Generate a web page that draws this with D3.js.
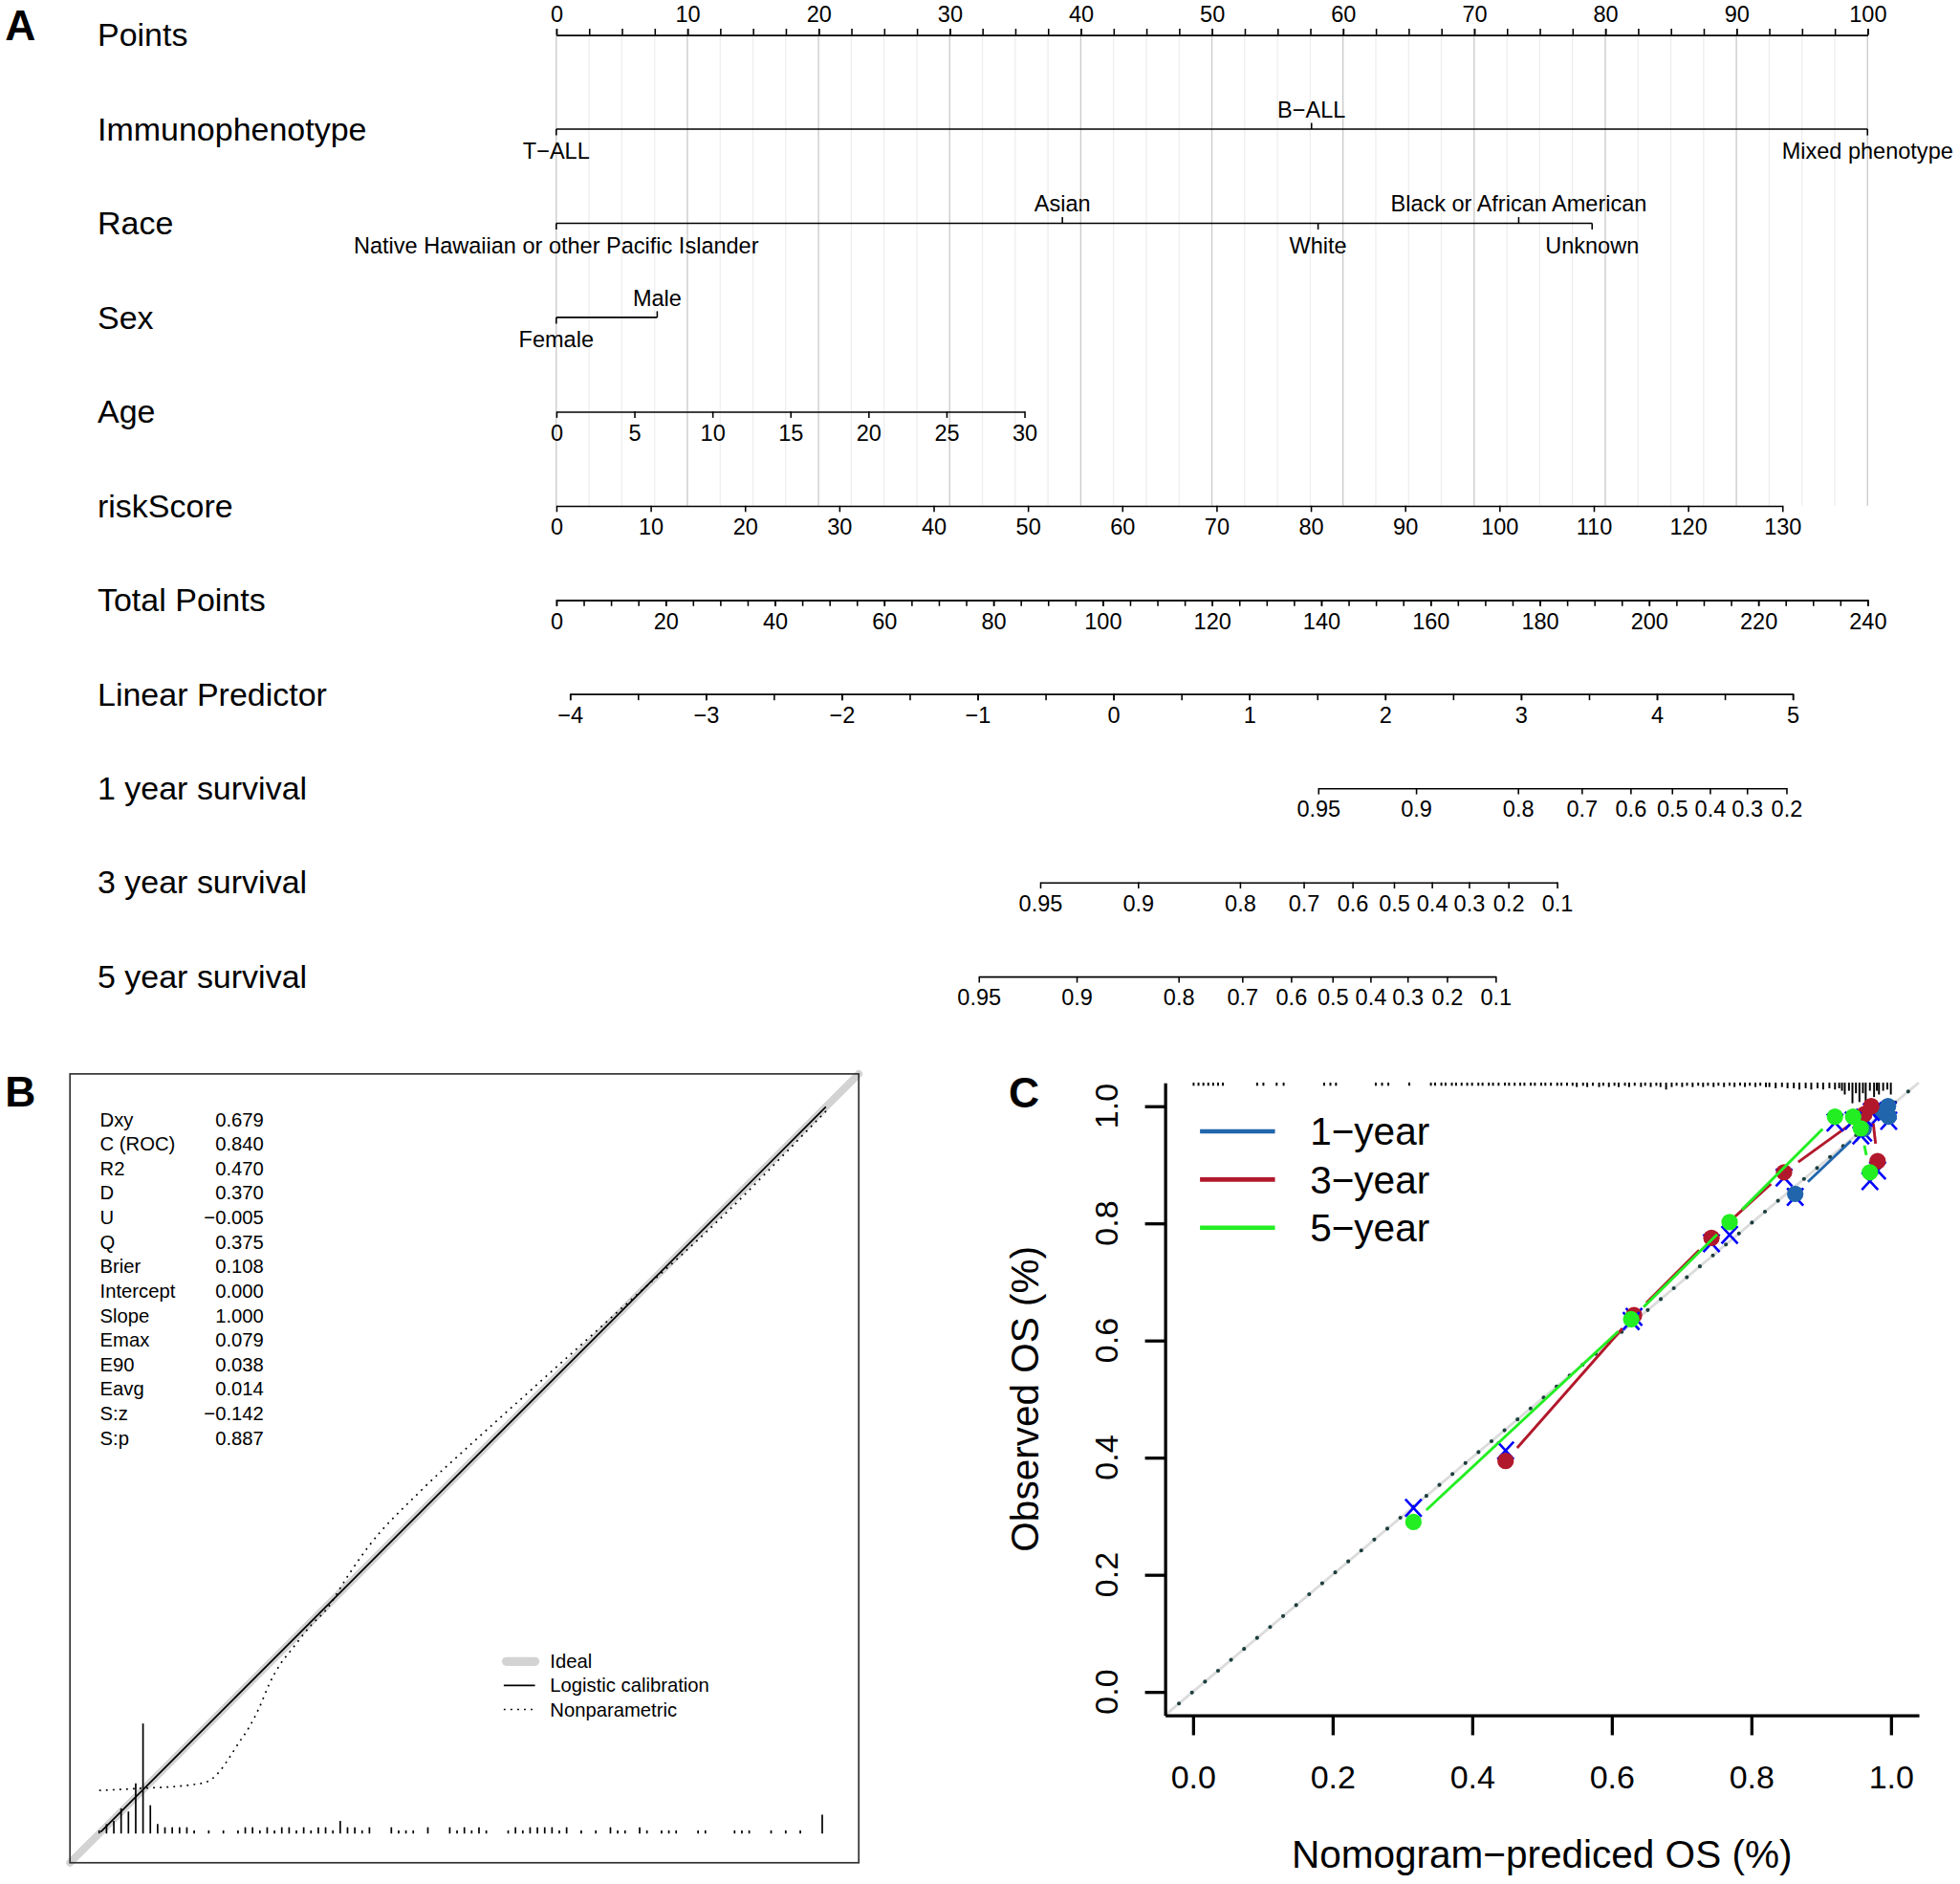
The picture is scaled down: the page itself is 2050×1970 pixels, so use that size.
<html>
<head>
<meta charset="utf-8">
<title>Nomogram and calibration curves</title>
<script src="https://d3js.org/d3.v7.min.js"></script>
<style>
  body { margin: 0; background: #fff; }
</style>
</head>
<body>
<script>
// ---------- data : panel A (nomogram) ----------
const rowNames = ["Points", "Immunophenotype", "Race", "Sex", "Age", "riskScore",
  "Total Points", "Linear Predictor", "1 year survival", "3 year survival", "5 year survival"];

const pointsTicks = [0, 10, 20, 30, 40, 50, 60, 70, 80, 90, 100];

const immunoLevels = ["T\u2212ALL", "B\u2212ALL", "Mixed phenotype"];
const immunoPoints = [0, 57.6, 100];
const immunoSide = [1, -1, 1];          // 1 = label below, -1 = label above

const raceLevels = ["Native Hawaiian or other Pacific Islander", "Asian", "White",
  "Black or African American", "Unknown"];
const racePoints = [0, 38.6, 58.1, 73.4, 79.0];
const raceSide = [1, -1, 1, -1, 1];

const sexLevels = ["Female", "Male"];
const sexPoints = [0, 7.7];
const sexSide = [1, -1];

const ageTicks = [0, 5, 10, 15, 20, 25, 30];
const ageMaxPoints = 35.7;              // points given to age 30

const riskTicks = [0, 10, 20, 30, 40, 50, 60, 70, 80, 90, 100, 110, 120, 130];
const riskMaxPoints = 93.5;             // points given to riskScore 130

const totalTicks = [0, 20, 40, 60, 80, 100, 120, 140, 160, 180, 200, 220, 240];

const lpTicks = [-4, -3, -2, -1, 0, 1, 2, 3, 4, 5];
const lpRange = [-4, 5];
const lpTotal = [2.5, 226.3];           // total points at lp = -4 and lp = 5

const surv1Labels = ["0.95", "0.9", "0.8", "0.7", "0.6", "0.5", "0.4", "0.3", "0.2"];
const surv3Labels = ["0.95", "0.9", "0.8", "0.7", "0.6", "0.5", "0.4", "0.3", "0.2", "0.1"];
const surv5Labels = ["0.95", "0.9", "0.8", "0.7", "0.6", "0.5", "0.4", "0.3", "0.2", "0.1"];
const baseSurv = [0.9887, 0.9158, 0.8709]; // baseline survival at 1, 3, 5 years (lp = 0)

// ---------- data : panel B (val.prob) ----------
const statNames = ["Dxy", "C (ROC)", "R2", "D", "U", "Q", "Brier", "Intercept", "Slope",
  "Emax", "E90", "Eavg", "S:z", "S:p"];
const statValues = ["0.679", "0.840", "0.470", "0.370", "\u22120.005", "0.375", "0.108",
  "0.000", "1.000", "0.079", "0.038", "0.014", "\u22120.142", "0.887"];

const calIntercept = 0, calSlope = 1;
const calRange = [0.002, 0.995];

const nonpar = [[0.000, 0.059], [0.060, 0.062], [0.120, 0.066], [0.148, 0.071], [0.163, 0.083],
  [0.177, 0.102], [0.191, 0.124], [0.205, 0.145], [0.219, 0.172], [0.233, 0.205],
  [0.248, 0.232], [0.262, 0.250], [0.290, 0.285], [0.312, 0.308], [0.340, 0.352],
  [0.368, 0.392], [0.439, 0.468], [0.510, 0.534], [0.581, 0.598], [0.652, 0.662],
  [0.723, 0.726], [0.794, 0.789], [0.865, 0.856], [0.936, 0.928], [1.000, 0.994]];

const spikes = [[0.00, 1], [0.01, 3], [0.02, 4], [0.03, 8], [0.04, 7], [0.05, 16], [0.06, 35],
  [0.07, 9], [0.08, 3], [0.09, 2], [0.10, 2], [0.11, 2], [0.12, 2], [0.13, 1], [0.15, 1],
  [0.17, 1], [0.19, 1], [0.20, 2], [0.21, 2], [0.22, 1], [0.23, 2], [0.24, 1], [0.25, 2],
  [0.26, 2], [0.27, 1], [0.28, 2], [0.29, 1], [0.30, 2], [0.31, 2], [0.32, 1], [0.33, 4],
  [0.34, 2], [0.35, 2], [0.36, 1], [0.37, 2], [0.40, 2], [0.41, 1], [0.42, 1], [0.43, 1],
  [0.45, 2], [0.48, 2], [0.49, 1], [0.50, 2], [0.51, 1], [0.52, 2], [0.53, 1], [0.56, 1],
  [0.57, 2], [0.58, 1], [0.59, 2], [0.60, 2], [0.61, 2], [0.62, 2], [0.63, 1], [0.64, 2],
  [0.66, 1], [0.68, 1], [0.70, 2], [0.71, 1], [0.72, 1], [0.74, 2], [0.75, 1], [0.77, 1],
  [0.78, 1], [0.79, 1], [0.82, 1], [0.83, 1], [0.87, 1], [0.88, 1], [0.89, 1], [0.92, 1],
  [0.94, 1], [0.96, 1], [0.99, 6]];

// ---------- data : panel C (calibration of OS) ----------
const cTicks = [0, 0.2, 0.4, 0.6, 0.8, 1.0];
const cTickLabels = ["0.0", "0.2", "0.4", "0.6", "0.8", "1.0"];
const seriesNames = ["1\u2212year", "3\u2212year", "5\u2212year"];

const pred1 = [0.863, 0.961, 0.985, 0.996, 0.997];
const obs1  = [0.850, 0.961, 0.990, 1.000, 0.982];
const cor1  = [0.845, 0.955, 0.985, 0.992, 0.975];

const pred3 = [0.448, 0.632, 0.743, 0.847, 0.962, 0.972, 0.981];
const obs3  = [0.394, 0.643, 0.775, 0.887, 0.986, 1.000, 0.906];
const cor3  = [0.412, 0.640, 0.766, 0.878, 0.980, 0.990, 0.890];

const pred5 = [0.316, 0.628, 0.769, 0.920, 0.946, 0.957, 0.970];
const obs5  = [0.290, 0.636, 0.802, 0.982, 0.982, 0.962, 0.887];
const cor5  = [0.314, 0.633, 0.780, 0.972, 0.975, 0.950, 0.872];

const rug = [[0.001, 1], [0.008, 1], [0.015, 1], [0.022, 1], [0.029, 1], [0.036, 1], [0.043, 1],
  [0.092, 1], [0.101, 1], [0.120, 1], [0.130, 1], [0.188, 1], [0.197, 1], [0.205, 1],
  [0.262, 1], [0.271, 1], [0.280, 1], [0.310, 1],
  [0.341, 1], [0.347, 1], [0.356, 1], [0.362, 1], [0.371, 1], [0.377, 1], [0.385, 1],
  [0.393, 1], [0.400, 1], [0.409, 1], [0.415, 1], [0.424, 1], [0.430, 1], [0.438, 1],
  [0.447, 1], [0.453, 1], [0.461, 1], [0.469, 1], [0.475, 1], [0.484, 1], [0.490, 1],
  [0.499, 1], [0.505, 1], [0.513, 1], [0.522, 1], [0.528, 1], [0.536, 1], [0.544, 1],
  [0.550, 1.5], [0.559, 1], [0.565, 1.5], [0.573, 1], [0.582, 1.5], [0.588, 1], [0.596, 1.5],
  [0.604, 1], [0.610, 1.5], [0.619, 1], [0.625, 1.5], [0.633, 1], [0.642, 1.5], [0.648, 1],
  [0.656, 1.5], [0.664, 1], [0.670, 1.5], [0.678, 2.5], [0.686, 1.5], [0.693, 1], [0.701, 1.5],
  [0.708, 1], [0.716, 1.5], [0.724, 1], [0.731, 1.5], [0.738, 1], [0.746, 1.5], [0.753, 1],
  [0.761, 1.5], [0.769, 1], [0.776, 1.5], [0.784, 1], [0.791, 1.5], [0.798, 1], [0.806, 1.5],
  [0.813, 1], [0.821, 1.5], [0.826, 1.5], [0.835, 2], [0.844, 1.5], [0.852, 2], [0.861, 2],
  [0.869, 2.5], [0.878, 2], [0.886, 2.5], [0.895, 2], [0.903, 2.5], [0.912, 2], [0.920, 2.5],
  [0.926, 2], [0.930, 3], [0.934, 4.5], [0.940, 3], [0.945, 8], [0.950, 4], [0.955, 7.5],
  [0.960, 4], [0.964, 7.5], [0.970, 3], [0.976, 5.5], [0.980, 3], [0.983, 4.5], [0.989, 3],
  [0.995, 2.5], [1.000, 4.5]];

// ---------- layout ----------
const W = 1568, H = 1507;
const font = "'Liberation Sans', Arial, Helvetica, sans-serif";
const blue = "#2166AC", red = "#B2182B", green = "#22EE22";

const svg = d3.select("body").append("svg")
  .attr("width", 2050).attr("height", 1970)
  .attr("viewBox", "0 0 " + W + " " + H)
  .attr("preserveAspectRatio", "none");
svg.append("rect").attr("width", W).attr("height", H).attr("fill", "#fff");

// panel letters
svg.append("g").attr("font-family", font).attr("font-weight", "bold").attr("font-size", 34)
  .selectAll("text").data([["A", 4, 32], ["B", 4, 885], ["C", 807, 886]]).join("text")
  .attr("x", d => d[1]).attr("y", d => d[2]).text(d => d[0]);

// ================= Panel A =================
const rowY0 = 28, rowStep = 75.3;
const rowY = i => rowY0 + i * rowStep;
const ptsX = d3.scaleLinear().domain([0, 100]).range([445, 1494]);
const totX = d3.scaleLinear().domain([0, 240]).range([445, 1494]);
const lpToTot = d3.scaleLinear().domain(lpRange).range(lpTotal);
const lpX = v => totX(lpToTot(v));

const A = svg.append("g").attr("font-family", font);

// grid
A.append("g").selectAll("line").data(d3.range(0, 100.01, 2.5)).join("line")
  .attr("x1", d => ptsX(d)).attr("x2", d => ptsX(d))
  .attr("y1", rowY(0)).attr("y2", rowY(5))
  .attr("stroke", d => d % 10 === 0 ? "#c9c9c9" : "#eeeeee")
  .attr("stroke-width", 1);

A.selectAll("text.row").data(rowNames).join("text").attr("class", "row")
  .attr("x", 78).attr("y", (d, i) => rowY(i)).attr("dy", "0.35em")
  .attr("font-size", 26).text(d => d);

function numAxis(y, scale, major, minor, fmt, top) {
  const g = A.append("g").attr("transform", "translate(0," + y + ")");
  const mk = top ? d3.axisTop : d3.axisBottom;
  if (minor) {
    g.append("g").call(mk(scale).tickValues(minor).tickSize(5).tickSizeOuter(0).tickFormat(""));
  }
  g.append("g").call(mk(scale).tickValues(major).tickSize(5).tickSizeOuter(0)
    .tickPadding(5.5).tickFormat(fmt));
  g.selectAll("text").attr("font-size", 18).attr("font-family", font);
  g.selectAll("path.domain, line").attr("stroke", "#000").attr("stroke-width", 1.2);
}

function catAxis(y, levels, points, side) {
  const g = A.append("g").attr("transform", "translate(0," + y + ")");
  g.append("line").attr("x1", ptsX(d3.min(points))).attr("x2", ptsX(d3.max(points)))
    .attr("stroke", "#000").attr("stroke-width", 1.2);
  g.selectAll("line.tk").data(points).join("line").attr("class", "tk")
    .attr("x1", d => ptsX(d)).attr("x2", d => ptsX(d))
    .attr("y1", 0).attr("y2", (d, i) => 5 * side[i])
    .attr("stroke", "#000").attr("stroke-width", 1.2);
  g.selectAll("text").data(levels).join("text")
    .attr("x", (d, i) => ptsX(points[i])).attr("y", (d, i) => (side[i] > 0 ? 17.5 : -15.5))
    .attr("dy", "0.35em").attr("text-anchor", "middle").attr("font-size", 18)
    .text(d => d);
}

const minus = d => d < 0 ? "\u2212" + Math.abs(d) : String(d);

numAxis(rowY(0), ptsX, pointsTicks, d3.range(0, 100.01, 2.5), d => d, true);
catAxis(rowY(1), immunoLevels, immunoPoints, immunoSide);
catAxis(rowY(2), raceLevels, racePoints, raceSide);
catAxis(rowY(3), sexLevels, sexPoints, sexSide);
numAxis(rowY(4), d3.scaleLinear().domain([0, 30]).range([ptsX(0), ptsX(ageMaxPoints)]),
  ageTicks, null, d => d, false);
numAxis(rowY(5), d3.scaleLinear().domain([0, 130]).range([ptsX(0), ptsX(riskMaxPoints)]),
  riskTicks, null, d => d, false);
numAxis(rowY(6), totX, totalTicks, d3.range(0, 240.01, 5), d => d, false);
numAxis(rowY(7), d3.scaleLinear().domain(lpRange).range([lpX(lpRange[0]), lpX(lpRange[1])]),
  lpTicks, d3.range(-4, 5.01, 0.5), minus, false);

[surv1Labels, surv3Labels, surv5Labels].forEach((labels, k) => {
  const c = Math.log(-Math.log(baseSurv[k]));
  const lps = labels.map(s => Math.log(-Math.log(+s)) - c);
  const sc = d3.scaleLinear().domain([lps[0], lps[lps.length - 1]])
    .range([lpX(lps[0]), lpX(lps[lps.length - 1])]);
  numAxis(rowY(8 + k), sc, lps, null, (d, i) => labels[i], false);
});

// ================= Panel B =================
const bx = d3.scaleLinear().domain([-0.04, 1.04]).range([56, 687]);
const by = d3.scaleLinear().domain([-0.04, 1.04]).range([1490, 859]);
const B = svg.append("g").attr("font-family", font);

B.append("line")
  .attr("x1", bx(-0.04)).attr("y1", by(-0.04)).attr("x2", bx(1.04)).attr("y2", by(1.04))
  .attr("stroke", "#d3d3d3").attr("stroke-width", 6).attr("stroke-linecap", "round");

const logit = p => Math.log(p / (1 - p));
const calY = p => 1 / (1 + Math.exp(-(calIntercept + calSlope * logit(p))));
B.append("line")
  .attr("x1", bx(calRange[0])).attr("y1", by(calY(calRange[0])))
  .attr("x2", bx(calRange[1])).attr("y2", by(calY(calRange[1])))
  .attr("stroke", "#000").attr("stroke-width", 1.3);

B.append("path").datum(nonpar)
  .attr("d", d3.line().x(d => bx(d[0])).y(d => by(d[1])).curve(d3.curveMonotoneX))
  .attr("fill", "none").attr("stroke", "#000").attr("stroke-width", 1.3)
  .attr("stroke-dasharray", "1.4 4");

const spikeH = d3.scaleLinear().domain([0, 35]).range([0, 88]);
B.append("g").selectAll("line").data(spikes).join("line")
  .attr("x1", d => bx(d[0])).attr("x2", d => bx(d[0]))
  .attr("y1", by(0)).attr("y2", d => by(0) - spikeH(d[1]))
  .attr("stroke", "#000").attr("stroke-width", 1.3);

B.append("rect").attr("x", bx(-0.04)).attr("y", by(1.04))
  .attr("width", bx(1.04) - bx(-0.04)).attr("height", by(-0.04) - by(1.04))
  .attr("fill", "none").attr("stroke", "#333").attr("stroke-width", 1.3);

const stats = B.append("g").attr("font-size", 15.5);
stats.selectAll("text.n").data(statNames).join("text").attr("class", "n")
  .attr("x", 80).attr("y", (d, i) => 895.4 + i * 19.6).attr("dy", "0.35em").text(d => d);
stats.selectAll("text.v").data(statValues).join("text").attr("class", "v")
  .attr("x", 211).attr("y", (d, i) => 895.4 + i * 19.6).attr("dy", "0.35em")
  .attr("text-anchor", "end").text(d => d);

const legB = B.append("g").attr("font-size", 15.5);
const legBItems = [["Ideal", "#d3d3d3", 7, null], ["Logistic calibration", "#000", 1.3, null],
  ["Nonparametric", "#000", 1.3, "1.4 4"]];
legBItems.forEach((it, i) => {
  const y = 1329 + i * 19.2;
  legB.append("line").attr("x1", it[0] === "Ideal" ? 405 : 403).attr("x2", 428)
    .attr("y1", y).attr("y2", y).attr("stroke", it[1]).attr("stroke-width", it[2])
    .attr("stroke-linecap", it[0] === "Ideal" ? "round" : "butt")
    .attr("stroke-dasharray", it[3]);
  legB.append("text").attr("x", 440).attr("y", y).attr("dy", "0.35em").text(it[0]);
});

// ================= Panel C =================
const cx = d3.scaleLinear().domain([-0.04, 1.04]).range([932, 1535]);
const cy = d3.scaleLinear().domain([-0.04, 1.04]).range([1372, 866]);
const C = svg.append("g").attr("font-family", font);

// ideal diagonal
C.append("line").attr("x1", cx(-0.04)).attr("y1", cy(-0.04)).attr("x2", cx(1.04)).attr("y2", cy(1.04))
  .attr("stroke", "#dcdcdc").attr("stroke-width", 2.2);
C.append("line").attr("x1", cx(-0.02)).attr("y1", cy(-0.02)).attr("x2", cx(1.04)).attr("y2", cy(1.04))
  .attr("stroke", "#1d3f3f").attr("stroke-width", 3.2).attr("stroke-linecap", "round")
  .attr("stroke-dasharray", "0 13.6");

// rug of predictions along the top
const rugH = d3.scaleLinear().domain([0, 8]).range([0, 16]);
C.append("g").selectAll("line").data(rug).join("line")
  .attr("x1", d => cx(d[0])).attr("x2", d => cx(d[0]))
  .attr("y1", cy(1.04)).attr("y2", d => cy(1.04) + rugH(d[1]) + 0.5)
  .attr("stroke", "#000").attr("stroke-width", 1.5);

function drawSeries(pred, obs, cor, col) {
  const g = C.append("g");
  const gap = 14;
  const segs = [];
  for (let i = 0; i < pred.length - 1; i++) {
    const x0 = cx(pred[i]), y0 = cy(obs[i]), x1 = cx(pred[i + 1]), y1 = cy(obs[i + 1]);
    const L = Math.hypot(x1 - x0, y1 - y0);
    if (L > 2 * gap) {
      const ux = (x1 - x0) / L, uy = (y1 - y0) / L;
      segs.push([x0 + ux * gap, y0 + uy * gap, x1 - ux * gap, y1 - uy * gap]);
    }
  }
  g.selectAll("line").data(segs).join("line")
    .attr("x1", d => d[0]).attr("y1", d => d[1]).attr("x2", d => d[2]).attr("y2", d => d[3])
    .attr("stroke", col).attr("stroke-width", 2.2);
  g.selectAll("path.x").data(pred).join("path").attr("class", "x")
    .attr("transform", (d, i) => "translate(" + cx(d) + "," + cy(cor[i]) + ")")
    .attr("d", "M-6.5,-7L6.5,7M-6.5,7L6.5,-7")
    .attr("stroke", "#0000ff").attr("stroke-width", 2).attr("fill", "none");
  g.selectAll("circle").data(pred).join("circle")
    .attr("cx", d => cx(d)).attr("cy", (d, i) => cy(obs[i])).attr("r", 6.6)
    .attr("fill", col);
}
drawSeries(pred1, obs1, cor1, blue);
drawSeries(pred3, obs3, cor3, red);
drawSeries(pred5, obs5, cor5, green);

// axes
const yAx = C.append("g").attr("transform", "translate(" + cx(-0.04) + ",0)")
  .call(d3.axisLeft(cy).tickValues(cTicks).tickSize(16).tickSizeOuter(0).tickFormat(""));
const xAx = C.append("g").attr("transform", "translate(0," + cy(-0.04) + ")")
  .call(d3.axisBottom(cx).tickValues(cTicks).tickSize(16).tickSizeOuter(0).tickPadding(24)
    .tickFormat((d, i) => cTickLabels[i]));
C.selectAll("path.domain").attr("stroke", "#000").attr("stroke-width", 2.5);
yAx.selectAll("line").attr("stroke", "#000").attr("stroke-width", 2.5);
xAx.selectAll("line").attr("stroke", "#000").attr("stroke-width", 2.5);
xAx.selectAll("text").attr("font-size", 26).attr("font-family", font);

C.append("g").selectAll("text").data(cTicks).join("text")
  .attr("transform", d => "translate(885," + cy(d) + ") rotate(-90)")
  .attr("text-anchor", "middle").attr("dy", "0.35em").attr("font-size", 26)
  .text((d, i) => cTickLabels[i]);

C.append("text").attr("transform", "translate(820," + (cy(-0.04) + cy(1.04)) / 2 + ") rotate(-90)")
  .attr("text-anchor", "middle").attr("dy", "0.35em").attr("font-size", 31)
  .text("Observed OS (%)");
C.append("text").attr("x", (cx(-0.04) + cx(1.04)) / 2).attr("y", 1483).attr("dy", "0.35em")
  .attr("text-anchor", "middle").attr("font-size", 31)
  .text("Nomogram\u2212prediced OS (%)");

// legend
const legC = C.append("g");
[blue, red, green].forEach((col, i) => {
  const y = 905 + i * 38.5;
  legC.append("line").attr("x1", 960).attr("x2", 1020).attr("y1", y).attr("y2", y)
    .attr("stroke", col).attr("stroke-width", 3.5);
  legC.append("text").attr("x", 1048).attr("y", y).attr("dy", "0.35em")
    .attr("font-size", 31).text(seriesNames[i]);
});
</script>
</body>
</html>
